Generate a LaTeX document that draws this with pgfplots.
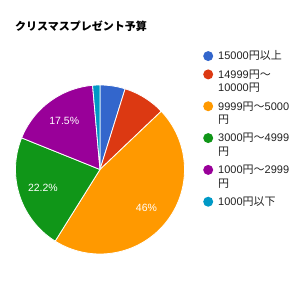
\documentclass[border=0pt]{standalone}
\usepackage{pgfplots}
\pgfplotsset{compat=1.18}
\usepackage{fontspec}
\setmainfont{Liberation Sans}
\newfontfamily\cjk{Noto Sans CJK JP}
\definecolor{gBlue}{HTML}{3366CC}
\definecolor{gRed}{HTML}{DC3912}
\definecolor{gOrange}{HTML}{FF9900}
\definecolor{gGreen}{HTML}{109618}
\definecolor{gPurple}{HTML}{990099}
\definecolor{gTeal}{HTML}{0099C6}
\definecolor{gText}{HTML}{222222}
\begin{document}
\begin{tikzpicture}
% slice values (percent)
\def\vA{4.8}   % 15000円以上
\def\vB{8.1}   % 14999円～10000円
\def\vC{46}    % 9999円～5000円
\def\vD{22.2}  % 3000円～4999円
\def\vE{17.5}  % 1000円～2999円
\def\vF{1.4}   % 1000円以下
\pgfmathsetmacro\aA{90}
\pgfmathsetmacro\aB{\aA-3.6*\vA}
\pgfmathsetmacro\aC{\aB-3.6*\vB}
\pgfmathsetmacro\aD{\aC-3.6*\vC}
\pgfmathsetmacro\aE{\aD-3.6*\vD}
\pgfmathsetmacro\aF{\aE-3.6*\vE}
\pgfmathsetmacro\aG{\aF-3.6*\vF}
\pgfmathsetmacro\mC{(\aC+\aD)/2}
\pgfmathsetmacro\mD{(\aD+\aE)/2}
\pgfmathsetmacro\mE{(\aE+\aF)/2}
\def\cx{100}\def\cy{120.5}\def\R{84.5}\def\rl{60}
\begin{axis}[hide axis, scale only axis, width=290pt, height=290pt,
  xmin=0, xmax=290, ymin=0, ymax=290, clip=false,
  legend style={at={(axis cs:203.2,239.7)}, anchor=north west, draw=none, fill=none,
    inner sep=0pt, outer sep=0pt, row sep=4.6pt, column sep=5.0pt, text=gText,
    font={\fontsize{11}{13.5}\selectfont\lineskiplimit=-20pt\relax},
    nodes={inner sep=0pt, anchor=base west, text width=80pt, align=left,
      text height=9.68pt, text depth=4.05pt,
      font={\fontsize{11}{13.5}\selectfont\lineskiplimit=-20pt\relax}}},
  legend image code/.code={\fill[#1,draw=none] (5pt,3.9pt) circle (5pt);},
]
\addplot[fill=gBlue, draw=white, line width=0.8pt, domain=\aB:\aA, samples=60]
  ({\cx+\R*cos(x)},{\cy+\R*sin(x)}) -- (axis cs:\cx,\cy) -- cycle;
\addlegendentry[text depth=4.05pt]{15000{\cjk 円以上}}
\addplot[fill=gRed, draw=white, line width=0.8pt, domain=\aC:\aB, samples=60]
  ({\cx+\R*cos(x)},{\cy+\R*sin(x)}) -- (axis cs:\cx,\cy) -- cycle;
\addlegendentry[text depth=17.55pt]{\strut 14999{\cjk 円～}\newline 10000{\cjk 円}\strut}
\addplot[fill=gOrange, draw=white, line width=0.8pt, domain=\aD:\aC, samples=100]
  ({\cx+\R*cos(x)},{\cy+\R*sin(x)}) -- (axis cs:\cx,\cy) -- cycle;
\addlegendentry[text depth=17.55pt]{\strut 9999{\cjk 円～}5000\newline{\cjk 円}\strut}
\addplot[fill=gGreen, draw=white, line width=0.8pt, domain=\aE:\aD, samples=60]
  ({\cx+\R*cos(x)},{\cy+\R*sin(x)}) -- (axis cs:\cx,\cy) -- cycle;
\addlegendentry[text depth=17.55pt]{\strut 3000{\cjk 円～}4999\newline{\cjk 円}\strut}
\addplot[fill=gPurple, draw=white, line width=0.8pt, domain=\aF:\aE, samples=60]
  ({\cx+\R*cos(x)},{\cy+\R*sin(x)}) -- (axis cs:\cx,\cy) -- cycle;
\addlegendentry[text depth=17.55pt]{\strut 1000{\cjk 円～}2999\newline{\cjk 円}\strut}
\addplot[fill=gTeal, draw=white, line width=0.8pt, domain=\aG:\aF, samples=20]
  ({\cx+\R*cos(x)},{\cy+\R*sin(x)}) -- (axis cs:\cx,\cy) -- cycle;
\addlegendentry[text depth=4.05pt]{1000{\cjk 円以下}}
\node[text=white, inner sep=0pt, font=\fontsize{10.5}{12}\selectfont]
  at (axis cs:{\cx+\rl*cos(\mC)},{\cy+\rl*sin(\mC)}) {46\%};
\node[text=white, inner sep=0pt, font=\fontsize{10.5}{12}\selectfont]
  at (axis cs:{\cx+\rl*cos(\mD)},{\cy+\rl*sin(\mD)}) {22.2\%};
\node[text=white, inner sep=0pt, font=\fontsize{10.5}{12}\selectfont]
  at (axis cs:{\cx+\rl*cos(\mE)},{\cy+\rl*sin(\mE)}) {17.5\%};
\node[anchor=west, inner sep=0pt, text=black, font=\cjk\bfseries\fontsize{11}{13}\selectfont]
  at (axis cs:15,264.2) {クリスマスプレゼント予算};
\end{axis}
\pgfresetboundingbox
\path (0,0) rectangle (290pt,290pt);
\end{tikzpicture}
\end{document}
